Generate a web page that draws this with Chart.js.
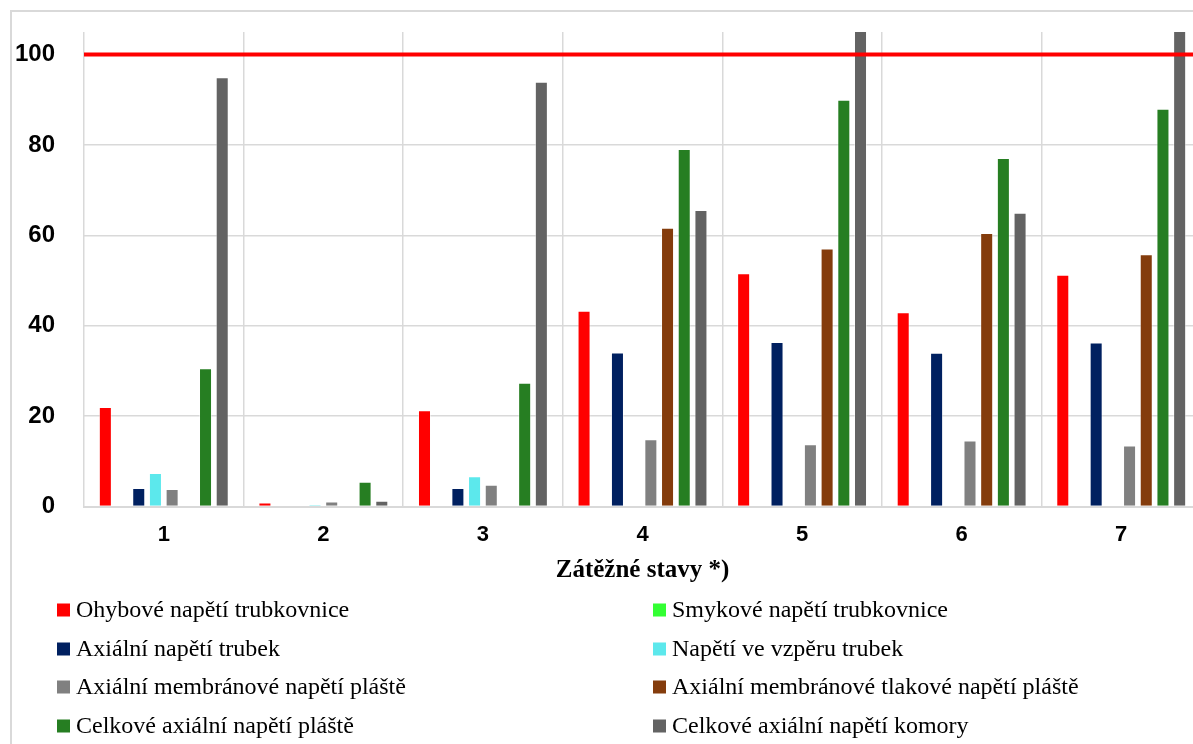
<!DOCTYPE html>
<html>
<head>
<meta charset="utf-8">
<script src="https://cdn.jsdelivr.net/npm/chart.js@4.4.1/dist/chart.umd.min.js"></script>
<style>
  html, body { margin: 0; padding: 0; background: #fff; }
  #wrap { position: relative; width: 1193px; height: 744px; overflow: hidden; background: #fff; }
  #frame { position: absolute; left: 10px; top: 10px; width: 1400px; height: 1000px; border: 2px solid #d9d9d9; box-sizing: border-box; }
  #c { position: absolute; left: 0; top: 0; }
</style>
</head>
<body>
<div id="wrap">
  <div id="frame"></div>
  <canvas id="c" width="1220" height="744"></canvas>
</div>
<script>
const categories = ['1', '2', '3', '4', '5', '6', '7'];
const seriesNames = [
  'Ohybové napětí trubkovnice',
  'Smykové napětí trubkovnice',
  'Axiální napětí trubek',
  'Napětí ve vzpěru trubek',
  'Axiální membránové napětí pláště',
  'Axiální membránové tlakové napětí pláště',
  'Celkové axiální napětí pláště',
  'Celkové axiální napětí komory'
];
const seriesColors = ['#ff0000', '#33ff33', '#002060', '#5ce8ec', '#808080', '#843c0c', '#267e22', '#636363'];
const ohybove      = [22.0, 0.9, 21.3, 43.3, 51.6, 43.0, 51.3];
const smykove      = [0, 0, 0, 0, 0, 0, 0];
const axialniTrub  = [4.1, 0.15, 4.1, 34.1, 36.4, 34.0, 36.3];
const vzper        = [7.4, 0.4, 6.7, 0, 0, 0, 0];
const membranove   = [3.9, 1.1, 4.8, 14.9, 13.8, 14.6, 13.5];
const tlakove      = [0, 0, 0, 61.7, 57.1, 60.5, 55.8];
const celkPlaste   = [30.6, 5.5, 27.4, 79.1, 90.0, 77.1, 88.0];
const celkKomory   = [95.0, 1.3, 94.0, 65.6, 106, 65.0, 106];
const seriesValues = [ohybove, smykove, axialniTrub, vzper, membranove, tlakove, celkPlaste, celkKomory];
const yTicks = [0, 20, 40, 60, 80, 100];
const yMax = 105;
const limitValue = 100;
const xTitle = 'Zátěžné stavy *)';

const limitLine = {
  id: 'limitLine',
  afterDatasetsDraw(chart) {
    const {ctx, chartArea, scales} = chart;
    const y = scales.y.getPixelForValue(limitValue);
    ctx.save();
    ctx.strokeStyle = '#ff0000';
    ctx.lineWidth = 4;
    ctx.beginPath();
    ctx.moveTo(chartArea.left, y);
    ctx.lineTo(chartArea.right, y);
    ctx.stroke();
    ctx.restore();
  }
};

// Two-column legend drawn on the canvas from the chart's datasets
const gridLegend = {
  id: 'gridLegend',
  afterDraw(chart) {
    const ctx = chart.ctx;
    const colX = [57, 653];
    const rowY = [610, 649, 687, 726];
    ctx.save();
    ctx.font = '24px "Liberation Serif", "Times New Roman", serif';
    ctx.textBaseline = 'middle';
    ctx.textAlign = 'left';
    chart.data.datasets.forEach((ds, i) => {
      const x = colX[i % 2];
      const y = rowY[Math.floor(i / 2)];
      ctx.fillStyle = ds.backgroundColor;
      ctx.fillRect(x, y - 6.5, 13, 13);
      ctx.fillStyle = '#000';
      ctx.fillText(ds.label, x + 19, y + 1);
    });
    ctx.restore();
  }
};

const chart = new Chart(document.getElementById('c'), {
  type: 'bar',
  data: {
    labels: categories,
    datasets: seriesNames.map((n, i) => ({
      label: n,
      data: seriesValues[i],
      backgroundColor: seriesColors[i],
      borderColor: 'rgba(255,255,255,0.45)',
      borderWidth: 1,
      categoryPercentage: 0.837,
      barPercentage: 0.78
    }))
  },
  options: {
    responsive: false,
    animation: false,
    devicePixelRatio: 1,
    layout: { padding: { left: 0, right: 19, top: 32, bottom: 157.5 } },
    plugins: { legend: { display: false }, tooltip: { enabled: false } },
    scales: {
      x: {
        grid: { color: '#d9d9d9', lineWidth: 1.5, drawTicks: false, offset: true },
        border: { color: '#d9d9d9', width: 2 },
        ticks: { color: '#000', font: { family: 'Liberation Sans, Arial, sans-serif', size: 22, weight: 'bold' }, padding: 15 },
        title: { display: true, text: xTitle, color: '#000', font: { family: 'Liberation Serif, Times New Roman, serif', size: 25, weight: 'bold' }, padding: { top: 0, bottom: 1 } },
        afterFit(s) { s.height = 80; s.paddingLeft = 0; s.paddingRight = 0; }
      },
      y: {
        min: 0, max: yMax,
        grid: { color: '#d9d9d9', lineWidth: 1.5, drawTicks: false },
        border: { display: false },
        ticks: { stepSize: 20, includeBounds: false, color: '#000', padding: 29, font: { family: 'Liberation Sans, Arial, sans-serif', size: 24, weight: 'bold' } },
        afterBuildTicks(s) { s.ticks = yTicks.map(v => ({ value: v })); },
        afterFit(s) { s.width = 84; s.paddingTop = 0; s.paddingBottom = 0; }
      }
    }
  },
  plugins: [limitLine, gridLegend]
});
</script>
</body>
</html>
